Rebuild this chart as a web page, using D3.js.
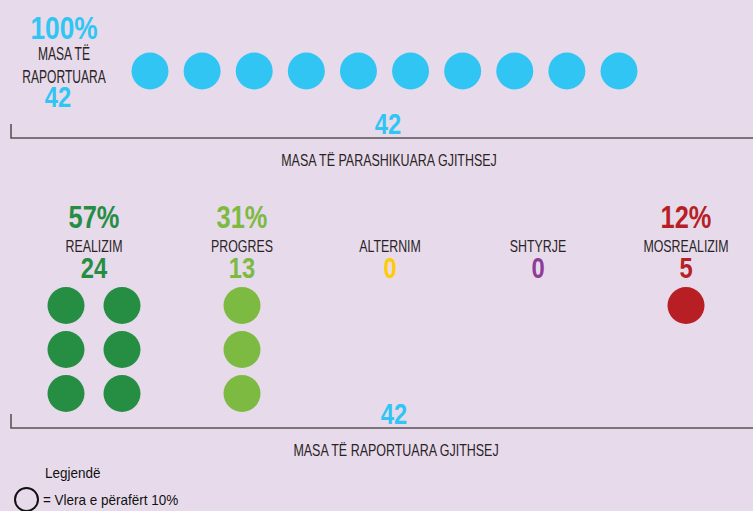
<!DOCTYPE html>
<html><head><meta charset="utf-8">
<script src="https://cdn.jsdelivr.net/npm/d3@7"></script>
<style>
html,body{margin:0;padding:0;background:#E7DBEB;}
svg{display:block;}
text{font-family:"Liberation Sans",Arial,sans-serif;}
</style></head>
<body><svg id="c" width="753" height="511"></svg>
<script>
// ---- data ----
const reportedLabel = ["MASA TË", "RAPORTUARA"];
const reportedPercent = 100;
const reportedCount = 42;
const plannedTotal = 42;
const plannedTotalLabel = "MASA TË PARASHIKUARA GJITHSEJ";
const reportedTotal = 42;
const reportedTotalLabel = "MASA TË RAPORTUARA GJITHSEJ";
const categories = ["REALIZIM", "PROGRES", "ALTERNIM", "SHTYRJE", "MOSREALIZIM"];
const counts = [24, 13, 0, 0, 5];
const percents = [57, 31, 0, 0, 12];
const colors = ["#268E43", "#7DBA42", "#FFCB05", "#8E3C97", "#B71F25"];
const blue = "#31C5F4";
const legendTitle = "Legjendë";
const legendText = "= Vlera e përafërt 10%";
const unitPercent = 10;

// ---- drawing ----
const svg = d3.select("#c");
const dark = "#2a2326";
const lineCol = "#5b5357";

function txt(x, y, s, o) {
  const g = svg.append("g").attr("transform", `translate(${x},${y}) scale(${o.sx || 0.78},1)`);
  g.append("text").attr("x", 0).attr("y", 0)
    .attr("text-anchor", o.anchor || "middle")
    .attr("font-size", o.size)
    .attr("font-weight", o.bold ? "bold" : "normal")
    .attr("fill", o.fill || dark).text(s);
}
const BIG = {size: 31, bold: true, sx: 0.82};

// top row
const topN = Math.round(reportedPercent / unitPercent);
const xTop = d3.scalePoint().domain(d3.range(topN)).range([150, 619]);
svg.append("g").selectAll("circle").data(d3.range(topN)).join("circle")
  .attr("cx", d => xTop(d)).attr("cy", 71).attr("r", 18.5).attr("fill", blue);

txt(64, 39, reportedPercent + "%", {...BIG, size: 32, fill: blue});
reportedLabel.forEach((t, i) => txt(64, 60 + i * 22.5, t, {size: 17.5, sx: 0.69}));
txt(58, 107, reportedCount, {...BIG, size: 29, fill: blue});

// brackets
function bracket(y, num, numX, label, labelX) {
  svg.append("path").attr("d", `M11,${y - 14}V${y}H753`).attr("fill", "none")
    .attr("stroke", lineCol).attr("stroke-width", 1.6);
  txt(numX, y - 4, num, {...BIG, size: 29, fill: blue});
  txt(labelX, y + 27.5, label, {size: 16, sx: 0.78});
}
bracket(138, plannedTotal, 388, plannedTotalLabel, 389);
bracket(428, reportedTotal, 394, reportedTotalLabel, 396);

// categories
const xCat = d3.scalePoint().domain(categories).range([94, 686]);
const rows = 3, colGap = 56, rowGap = 44, firstRow = 305.5;
categories.forEach((c, i) => {
  const cx = xCat(c);
  if (percents[i] > 0) txt(cx, 228, percents[i] + "%", {...BIG, fill: colors[i]});
  txt(cx, 251.5, c, {size: 16.5, sx: 0.75});
  txt(cx, 278, counts[i], {...BIG, size: 29, fill: colors[i]});
  const n = Math.round(percents[i] / unitPercent);
  const cols = Math.ceil(n / rows);
  const dots = d3.range(n).map(k => ({col: Math.floor(k / rows), row: k % rows}));
  svg.append("g").selectAll("circle").data(dots).join("circle")
    .attr("cx", d => cx + (d.col - (cols - 1) / 2) * colGap)
    .attr("cy", d => firstRow + d.row * rowGap)
    .attr("r", 18.5).attr("fill", colors[i]);
});

// legend
txt(45, 478, legendTitle, {size: 15, sx: 0.9, anchor: "start", fill: "#111"});
svg.append("circle").attr("cx", 26.5).attr("cy", 499.5).attr("r", 11.5)
  .attr("fill", "none").attr("stroke", "#111").attr("stroke-width", 2);
txt(43, 505, legendText, {size: 15, sx: 0.9, anchor: "start", fill: "#111"});
</script></body></html>
